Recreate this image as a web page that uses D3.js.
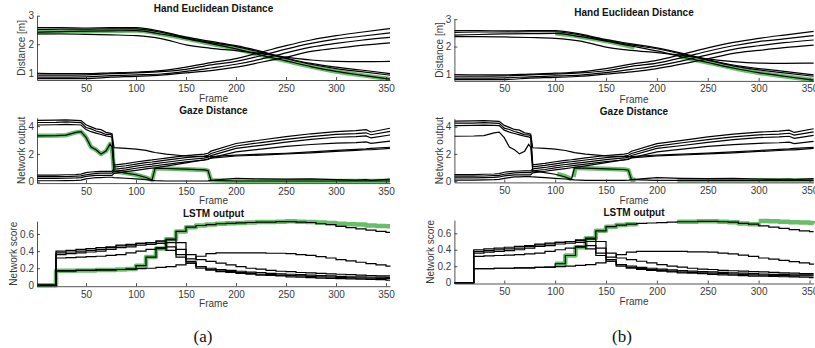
<!DOCTYPE html>
<html>
<head>
<meta charset="utf-8">
<script src="https://cdn.jsdelivr.net/npm/d3@7"></script>
<style>
  body { margin: 0; background: #fff; }
  text { font-family: "Liberation Sans", Arial, Helvetica, sans-serif; }
</style>
</head>
<body>
<div id="chart"></div>
<script>
// ---- data ----
const xTicks = [50, 100, 150, 200, 250, 300, 350];

// Hand Euclidean Distance
const handFrames = [1, 25, 50, 75, 100, 125, 150, 175, 200, 225, 250, 275, 300, 325, 354];
const handA = [2.58, 2.58, 2.57, 2.58, 2.58, 2.45, 2.25, 2.1, 1.95, 1.75, 1.52, 1.33, 1.2, 1.1, 0.97];
const handB = [2.52, 2.53, 2.53, 2.54, 2.54, 2.42, 2.22, 2.06, 1.92, 1.72, 1.5, 1.3, 1.15, 1.04, 0.92];
const handC = [2.42, 2.44, 2.46, 2.47, 2.48, 2.36, 2.2, 2.02, 1.84, 1.62, 1.42, 1.22, 1.05, 0.92, 0.78];
const handD = [2.36, 2.36, 2.35, 2.33, 2.3, 2.2, 1.98, 1.86, 1.78, 1.68, 1.55, 1.45, 1.4, 1.39, 1.4];
const handE = [0.98, 0.97, 0.97, 1.0, 1.03, 1.08, 1.2, 1.36, 1.5, 1.72, 1.95, 2.15, 2.3, 2.42, 2.55];
const handF = [0.92, 0.92, 0.93, 0.97, 1.0, 1.04, 1.12, 1.28, 1.4, 1.6, 1.83, 2.03, 2.18, 2.28, 2.4];
const handG = [0.85, 0.85, 0.86, 0.9, 0.93, 0.96, 1.05, 1.17, 1.3, 1.48, 1.7, 1.9, 2.03, 2.14, 2.24];
const handH = [0.8, 0.8, 0.8, 0.85, 0.88, 0.92, 1.0, 1.08, 1.2, 1.37, 1.55, 1.75, 1.86, 1.96, 2.05];
const handGreenB1Frames = [100, 125, 150, 178];
const handGreenB1 = [2.48, 2.36, 2.2, 1.97];
const handGreenB2Frames = [222, 250, 275, 300, 325, 354];
const handGreenB2 = [1.64, 1.42, 1.22, 1.05, 0.92, 0.78];

// Gaze Distance
const gazeFrames = [1, 20, 30, 40, 45, 50, 55, 60, 65, 70, 74, 76, 78, 90, 100, 110, 116, 119, 130, 150, 168, 172, 175, 200, 225, 250, 275, 300, 320, 330, 335, 354];
const gazeT1 = [4.42, 4.43, 4.45, 4.42, 4.4, 4.1, 3.95, 3.8, 3.75, 3.55, 3.5, 3.45, 2.45, 2.4, 2.35, 2.25, 2.15, 2.1, 1.98, 1.85, 1.8, 1.8, 1.8, 1.92, 1.98, 2.05, 2.15, 2.25, 2.33, 2.37, 2.4, 2.48];
const gazeF1 = [4.26, 4.27, 4.3, 4.27, 4.25, 3.9, 3.8, 3.65, 3.55, 3.4, 3.4, 3.35, 1.2, 1.3, 1.42, 1.52, 1.57, 1.6, 1.7, 1.88, 1.98, 2.05, 2.2, 2.75, 3.0, 3.25, 3.45, 3.6, 3.68, 3.75, 3.58, 3.85];
const gazeF2 = [4.08, 4.1, 4.12, 4.1, 4.08, 3.75, 3.6, 3.5, 3.4, 3.3, 3.25, 3.2, 1.05, 1.15, 1.27, 1.37, 1.42, 1.45, 1.55, 1.73, 1.84, 1.9, 2.03, 2.57, 2.82, 3.05, 3.25, 3.4, 3.46, 3.52, 3.38, 3.62];
const gazeGr = [3.3, 3.32, 3.35, 3.55, 3.6, 3.2, 2.5, 2.3, 2.0, 2.2, 2.7, 2.5, 0.75, 0.62, 0.5, 0.3, 0.12, 0.95, 0.95, 0.9, 0.85, 0.8, 0.1, 0.05, 0.05, 0.05, 0.05, 0.05, 0.05, 0.05, 0.05, 0.05];
const gazeF3 = [0.48, 0.48, 0.5, 0.52, 0.55, 0.65, 0.7, 0.72, 0.74, 0.75, 0.75, 0.75, 0.9, 1.0, 1.12, 1.22, 1.27, 1.3, 1.4, 1.58, 1.7, 1.76, 1.88, 2.4, 2.62, 2.85, 3.05, 3.2, 3.25, 3.3, 3.15, 3.36];
const gazeF4 = [0.36, 0.36, 0.37, 0.4, 0.42, 0.5, 0.55, 0.6, 0.62, 0.62, 0.62, 0.62, 0.75, 0.85, 0.97, 1.07, 1.12, 1.15, 1.25, 1.43, 1.55, 1.6, 1.72, 2.15, 2.35, 2.55, 2.68, 2.78, 2.82, 2.86, 2.76, 2.92];
const gazeTB = [0.24, 0.24, 0.25, 0.27, 0.3, 0.38, 0.42, 0.45, 0.45, 0.46, 0.46, 0.46, 0.6, 0.72, 0.82, 0.92, 0.98, 1.0, 1.12, 1.35, 1.58, 1.64, 1.7, 1.85, 1.92, 2.0, 2.08, 2.18, 2.25, 2.3, 2.3, 2.4];
const gazeB4 = [0.07, 0.07, 0.08, 0.1, 0.12, 0.2, 0.25, 0.3, 0.3, 0.32, 0.32, 0.32, 0.3, 0.25, 0.2, 0.15, 0.1, 0.08, 0.05, 0.05, 0.05, 0.06, 0.1, 0.25, 0.2, 0.18, 0.2, 0.15, 0.12, 0.15, 0.1, 0.18];
const gazeGreenB1Frames = [102, 108, 113, 116];
const gazeGreenB1 = [0.52, 0.4, 0.25, 0.12];
const gazeGreenB2Frames = [118, 120, 130, 150, 168, 172, 175, 179];
const gazeGreenB2 = [0.3, 0.98, 0.95, 0.9, 0.85, 0.8, 0.1, 0.1];
const gazeGreenB3Frames = [220, 250, 275, 300, 325, 354];
const gazeGreenB3 = [0.06, 0.05, 0.05, 0.05, 0.05, 0.05];

// LSTM output (step series)
const lstmFrames = [1, 20, 30, 40, 50, 60, 70, 80, 90, 100, 110, 120, 130, 140, 150, 160, 170, 180, 190, 200, 210, 220, 230, 240, 250, 260, 270, 280, 290, 300, 310, 320, 330, 340, 350, 354];
const lstmL1 = [0, 0.17, 0.17, 0.175, 0.175, 0.18, 0.18, 0.185, 0.19, 0.23, 0.33, 0.43, 0.54, 0.63, 0.68, 0.7, 0.71, 0.72, 0.725, 0.73, 0.735, 0.74, 0.74, 0.745, 0.745, 0.74, 0.735, 0.72, 0.71, 0.69, 0.675, 0.66, 0.645, 0.63, 0.62, 0.62];
const lstmL2 = [0, 0.17, 0.17, 0.175, 0.175, 0.18, 0.18, 0.185, 0.19, 0.195, 0.2, 0.21, 0.22, 0.24, 0.26, 0.22, 0.18, 0.16, 0.15, 0.14, 0.13, 0.12, 0.115, 0.11, 0.1, 0.095, 0.09, 0.085, 0.08, 0.078, 0.075, 0.072, 0.07, 0.066, 0.062, 0.062];
const lstmU1 = [0, 0.4, 0.41, 0.42, 0.43, 0.44, 0.45, 0.47, 0.48, 0.49, 0.5, 0.51, 0.5, 0.42, 0.31, 0.34, 0.37, 0.38, 0.38, 0.38, 0.38, 0.38, 0.375, 0.375, 0.37, 0.36, 0.35, 0.335, 0.32, 0.3, 0.285, 0.27, 0.255, 0.24, 0.225, 0.22];
const lstmU2 = [0, 0.38, 0.39, 0.4, 0.41, 0.42, 0.44, 0.46, 0.47, 0.49, 0.5, 0.52, 0.53, 0.5, 0.36, 0.3, 0.28, 0.26, 0.24, 0.22, 0.2, 0.19, 0.175, 0.165, 0.16, 0.15, 0.145, 0.14, 0.135, 0.13, 0.125, 0.12, 0.115, 0.11, 0.11, 0.11];
const lstmU3 = [0, 0.36, 0.37, 0.38, 0.39, 0.4, 0.42, 0.44, 0.45, 0.47, 0.48, 0.49, 0.45, 0.36, 0.28, 0.22, 0.2, 0.185, 0.175, 0.165, 0.155, 0.148, 0.14, 0.135, 0.13, 0.125, 0.12, 0.115, 0.11, 0.105, 0.1, 0.1, 0.095, 0.095, 0.094, 0.094];
const lstmU4 = [0, 0.32, 0.325, 0.33, 0.335, 0.34, 0.35, 0.36, 0.38, 0.4, 0.42, 0.44, 0.41, 0.33, 0.26, 0.2, 0.18, 0.17, 0.16, 0.15, 0.14, 0.13, 0.125, 0.12, 0.115, 0.11, 0.105, 0.1, 0.095, 0.09, 0.088, 0.085, 0.083, 0.082, 0.082, 0.082];
const lstmGreenA = [0, 0.17, 0.17, 0.175, 0.175, 0.18, 0.18, 0.185, 0.19, 0.23, 0.33, 0.43, 0.54, 0.63, 0.68, 0.7, 0.71, 0.72, 0.725, 0.73, 0.735, 0.74, 0.74, 0.745, 0.75, 0.745, 0.74, 0.735, 0.73, 0.72, 0.715, 0.71, 0.7, 0.695, 0.69, 0.69];
const lstmGreenB1Frames = [100, 110, 120, 130, 140, 150, 160, 170, 180];
const lstmGreenB1 = [0.23, 0.33, 0.43, 0.54, 0.63, 0.68, 0.7, 0.71, 0.72];
const lstmGreenB2Frames = [220, 230, 240, 250, 260, 270, 280, 290, 300];
const lstmGreenB2 = [0.74, 0.74, 0.745, 0.745, 0.74, 0.735, 0.72, 0.71, 0.69];
const lstmGreenB3Frames = [300, 310, 320, 330, 340, 350, 354];
const lstmGreenB3 = [0.75, 0.745, 0.74, 0.735, 0.73, 0.725, 0.72];

// ---- drawing ----
const GREEN = '#68bd68';
const INK = '#262626';

const svg = d3.select('#chart').append('svg')
  .attr('width', 815)
  .attr('height', 348);

function zip(frames, values) {
  return frames.map((f, i) => ({ f, v: values[i] }));
}

function subplot(p) {
  const x = d3.scaleLinear().domain([1, 354]).range(p.xRange);
  const y = d3.scaleLinear().domain(p.yDomain).range(p.yRange);
  const g = svg.append('g');

  const line = d3.line()
    .x(d => x(d.f))
    .y(d => y(d.v))
    .curve(p.curve);

  // green highlight under the black lines
  p.greens.forEach(s => {
    g.append('path')
      .datum(zip(s.frames, s.values))
      .attr('fill', 'none')
      .attr('stroke', GREEN)
      .attr('stroke-width', 4.5)
      .attr('stroke-linejoin', 'round')
      .attr('d', line);
  });

  p.series.forEach(vals => {
    g.append('path')
      .datum(zip(p.frames, vals))
      .attr('fill', 'none')
      .attr('stroke', '#000')
      .attr('stroke-width', 1.2)
      .attr('d', line);
  });

  // axes (ticks point inward, matlab style)
  const xAxis = g.append('g')
    .attr('transform', `translate(0,${p.yRange[0]})`)
    .call(d3.axisBottom(x).tickValues(xTicks).tickSizeInner(-3).tickSizeOuter(0).tickPadding(4.5));
  const yAxis = g.append('g')
    .attr('transform', `translate(${p.xRange[0]},0)`)
    .call(d3.axisLeft(y).tickValues(p.yTicks).tickSizeInner(-3).tickSizeOuter(0).tickPadding(3)
      .tickFormat(d => (d === 0 ? '0' : d3.format('~g')(d))));
  [xAxis, yAxis].forEach(a => {
    a.selectAll('path, line').attr('stroke', INK).attr('stroke-width', 0.8);
    a.selectAll('text').attr('fill', '#3a3a3a').style('font-size', '10px')
      .style('font-family', '"Liberation Sans", Arial, sans-serif');
  });

  const cx = (p.xRange[0] + x(354)) / 2;
  g.append('text')
    .attr('x', cx).attr('y', p.titleY)
    .attr('text-anchor', 'middle').attr('dominant-baseline', 'central')
    .style('font-size', '10px').style('font-weight', 'bold').attr('fill', '#111')
    .text(p.title);
  g.append('text')
    .attr('x', cx).attr('y', p.xlabelY)
    .attr('text-anchor', 'middle').attr('dominant-baseline', 'central')
    .style('font-size', '10px').attr('fill', '#3a3a3a')
    .text('Frame');
  const ly = (p.yRange[0] + p.yRange[1]) / 2;
  g.append('text')
    .attr('transform', `translate(${p.ylabelX},${ly}) rotate(-90)`)
    .attr('text-anchor', 'middle').attr('dominant-baseline', 'central')
    .style('font-size', '10px').attr('fill', '#3a3a3a')
    .text(p.ylabel);
}

const handBlack = [handA, handB, handC, handD, handE, handF, handG, handH];
const gazeBlack = [gazeT1, gazeF1, gazeF2, gazeGr, gazeF3, gazeF4, gazeTB, gazeB4];
const lstmBlack = [lstmU1, lstmU2, lstmU3, lstmU4, lstmL2, lstmL1];

const columns = [
  {
    xRange: [37, 390], ylabelDx: -15.8, lstmLabelDx: -24,
    hand: { yRange: [80, 15.7], titleY: 8.3, xlabelY: 98 },
    gaze: { yRange: [183.1, 117.8], titleY: 110.7, xlabelY: 200.7 },
    lstm: { yRange: [286.2, 221.2], yDomain: [-0.01, 0.75], titleY: 213.3, xlabelY: 303.3 },
    handGreens: [{ frames: handFrames, values: handC }],
    gazeGreens: [{ frames: gazeFrames, values: gazeGr }],
    lstmGreens: [{ frames: lstmFrames, values: lstmGreenA }],
    caption: '(a)', capX: 203
  },
  {
    xRange: [454.4, 813.6], ylabelDx: -15.2, lstmLabelDx: -23.5,
    hand: { yRange: [80.9, 19.1], titleY: 12.3, xlabelY: 99.3 },
    gaze: { yRange: [182.4, 118.6], titleY: 111, xlabelY: 200 },
    lstm: { yRange: [283.5, 220.1], yDomain: [-0.01, 0.76], titleY: 212.7, xlabelY: 301.7 },
    handGreens: [
      { frames: handGreenB1Frames, values: handGreenB1 },
      { frames: handGreenB2Frames, values: handGreenB2 }
    ],
    gazeGreens: [
      { frames: gazeGreenB1Frames, values: gazeGreenB1 },
      { frames: gazeGreenB2Frames, values: gazeGreenB2 },
      { frames: gazeGreenB3Frames, values: gazeGreenB3 }
    ],
    lstmGreens: [
      { frames: lstmGreenB1Frames, values: lstmGreenB1 },
      { frames: lstmGreenB2Frames, values: lstmGreenB2 },
      { frames: lstmGreenB3Frames, values: lstmGreenB3 }
    ],
    caption: '(b)', capX: 622
  }
];

columns.forEach(c => {
  subplot({
    xRange: c.xRange, yRange: c.hand.yRange, yDomain: [0.75, 3], yTicks: [1, 2, 3],
    title: 'Hand Euclidean Distance', titleY: c.hand.titleY, xlabelY: c.hand.xlabelY,
    ylabel: 'Distance [m]', ylabelX: c.xRange[0] + c.ylabelDx,
    frames: handFrames, series: handBlack, curve: d3.curveMonotoneX, greens: c.handGreens
  });
  subplot({
    xRange: c.xRange, yRange: c.gaze.yRange, yDomain: [-0.1, 4.6], yTicks: [0, 2, 4],
    title: 'Gaze Distance', titleY: c.gaze.titleY, xlabelY: c.gaze.xlabelY,
    ylabel: 'Network output', ylabelX: c.xRange[0] + c.ylabelDx,
    frames: gazeFrames, series: gazeBlack, curve: d3.curveLinear, greens: c.gazeGreens
  });
  subplot({
    xRange: c.xRange, yRange: c.lstm.yRange, yDomain: c.lstm.yDomain, yTicks: [0, 0.2, 0.4, 0.6],
    title: 'LSTM output', titleY: c.lstm.titleY, xlabelY: c.lstm.xlabelY,
    ylabel: 'Network score', ylabelX: c.xRange[0] + c.lstmLabelDx,
    frames: lstmFrames, series: lstmBlack, curve: d3.curveStepAfter, greens: c.lstmGreens
  });
  svg.append('text')
    .attr('x', c.capX).attr('y', 336.7)
    .attr('text-anchor', 'middle').attr('dominant-baseline', 'central')
    .style('font-family', '"Liberation Serif", "Times New Roman", serif')
    .style('font-size', '17px').attr('fill', '#111')
    .text(c.caption);
});
</script>
</body>
</html>
